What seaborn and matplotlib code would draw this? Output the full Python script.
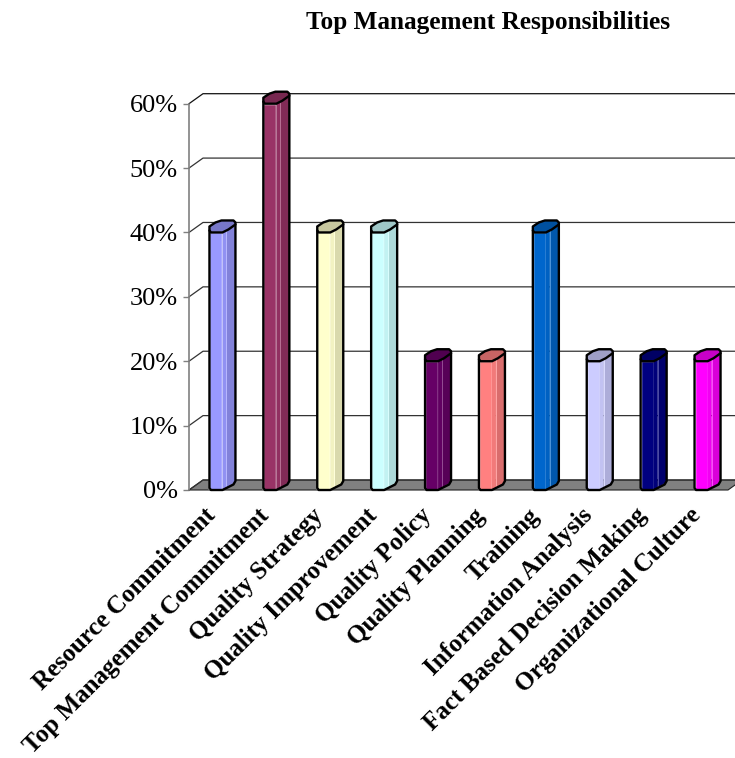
import numpy as np
import pandas as pd
import matplotlib
matplotlib.use("Agg")
import matplotlib.pyplot as plt
from matplotlib.patches import Polygon
from matplotlib.colors import to_rgb
from matplotlib.transforms import ScaledTranslation
import seaborn as sns

categories = ["Resource Commitment", "Top Management Commitment", "Quality Strategy",
              "Quality Improvement", "Quality Policy", "Quality Planning", "Training",
              "Information Analysis", "Fact Based Decision Making", "Organizational Culture"]
values = [0.40, 0.60, 0.40, 0.40, 0.20, 0.20, 0.40, 0.20, 0.20, 0.20]
colors = ["#9999FF", "#993366", "#FFFFCC", "#CCFFFF", "#660066",
          "#FF8080", "#0066CC", "#CCCCFF", "#000080", "#FF00FF"]
y_ticks = [0, 0.1, 0.2, 0.3, 0.4, 0.5, 0.6]
title = "Top Management Responsibilities"

W, H = 735, 758
sns.set_theme(style="white")
plt.rcParams["font.family"] = ["Liberation Serif", "DejaVu Serif"]

fig = plt.figure(figsize=(W / 100, H / 100), dpi=100, facecolor="white")
left, right, top, bottom = 189, 728, 103.7, 490
ax = fig.add_axes([left / W, (H - bottom) / H, (right - left) / W, (bottom - top) / H])
ax.patch.set_alpha(0)

df = pd.DataFrame({"category": categories, "value": values})
bar_px = 13
band = (right - left) / len(categories)
sns.barplot(data=df, x="category", y="value", hue="category", palette=colors,
            dodge=False, legend=False, width=bar_px / band, saturation=1, ax=ax, zorder=3)
ax.set_xlim(-0.5, len(categories) - 0.5)
ax.set_ylim(0, max(y_ticks))
px_x = 1 / band
px_y = max(y_ticks) / (bottom - top)
depth_x, depth_y = 14 * px_x, 10 * px_y


def shade(c, f):
    return tuple(v * f for v in to_rgb(c))


# floor
x0, x1 = -0.5, len(categories) - 0.5
ax.add_patch(Polygon([(x0, 0), (x0 + depth_x, depth_y), (x1 + depth_x, depth_y), (x1, 0)],
                     closed=True, fc="#808080", ec="#222222", lw=0.8, clip_on=False, zorder=1))
# walls and gridlines
for t in y_ticks:
    ax.plot([x0, x0 + depth_x, x1 + depth_x], [t, t + depth_y, t + depth_y],
            color="#111111" if t == max(y_ticks) else "#333333", lw=0.9, clip_on=False, zorder=1.5)
ax.plot([x0, x0], [0, max(y_ticks)], color="#808080", lw=1.2, clip_on=False, zorder=1.5)

# 3D body of every bar
for i, (v, c) in enumerate(zip(values, colors)):
    L = i - bar_px * px_x / 2
    X = lambda p: L + p * px_x
    Y = lambda p, base=v: base + p * px_y
    ax.add_patch(Polygon([(X(13), 0), (X(17), Y(2.5, 0)), (X(17), Y(2.5)), (X(13), v)], closed=True,
                         fc=shade(c, 0.95), ec="none", clip_on=False, zorder=3.1))
    ax.add_patch(Polygon([(X(17), Y(2.5, 0)), (X(26), Y(8, 0)), (X(26), Y(8)), (X(17), Y(2.5))], closed=True,
                         fc=shade(c, 0.85), ec="none", clip_on=False, zorder=3.1))
    ax.plot([X(17), X(17)], [Y(2.5, 0), Y(2.5)], color=tuple(min(1, a * 0.7 + 0.3) for a in to_rgb(c)),
            lw=0.7, clip_on=False, zorder=3.2)
    top_face = [(X(0), Y(2)), (X(1.5), Y(0)), (X(13), Y(0)), (X(19), Y(3)), (X(26), Y(8)),
                (X(26), Y(10)), (X(24), Y(12)), (X(12), Y(12)), (X(6), Y(10)), (X(0), Y(6))]
    ax.add_patch(Polygon(top_face, closed=True, fc=shade(c, 0.78), ec="black", lw=1.7,
                         joinstyle="round", clip_on=False, zorder=3.4))
    outline = [(X(0), Y(2)), (X(0), Y(2, 0)), (X(1.5), 0), (X(13), 0), (X(19), Y(3, 0)),
               (X(24), Y(5.5, 0)), (X(26), Y(9, 0)), (X(26), Y(8))]
    ax.plot(*zip(*outline), color="black", lw=1.7, solid_joinstyle="round", clip_on=False, zorder=3.5)

sns.despine(ax=ax, left=True, bottom=True)
ax.set_xlabel("")
ax.set_ylabel("")
ax.set_yticks(y_ticks)
ax.set_yticklabels([f"{round(t * 100)}%" for t in y_ticks], fontsize=19, color="black")
ax.tick_params(axis="y", length=4.5, width=1.0, color="#808080", pad=3.5, left=True)
ax.set_xticks(range(len(categories)))
ax.set_xticklabels(categories, rotation=45, ha="right", rotation_mode="anchor",
                   fontsize=18.1, fontweight="bold", color="black")
ax.tick_params(axis="x", length=0, pad=10)
shift = ScaledTranslation(-12 / 100, 0, fig.dpi_scale_trans)
for lab in ax.get_xticklabels():
    lab.set_transform(lab.get_transform() + shift)

fig.text(488 / W, (H - 22.5) / H, title, ha="center", va="center", fontsize=18.2,
         fontweight="bold", color="black")
fig.savefig("out.png", dpi=100, facecolor="white")
